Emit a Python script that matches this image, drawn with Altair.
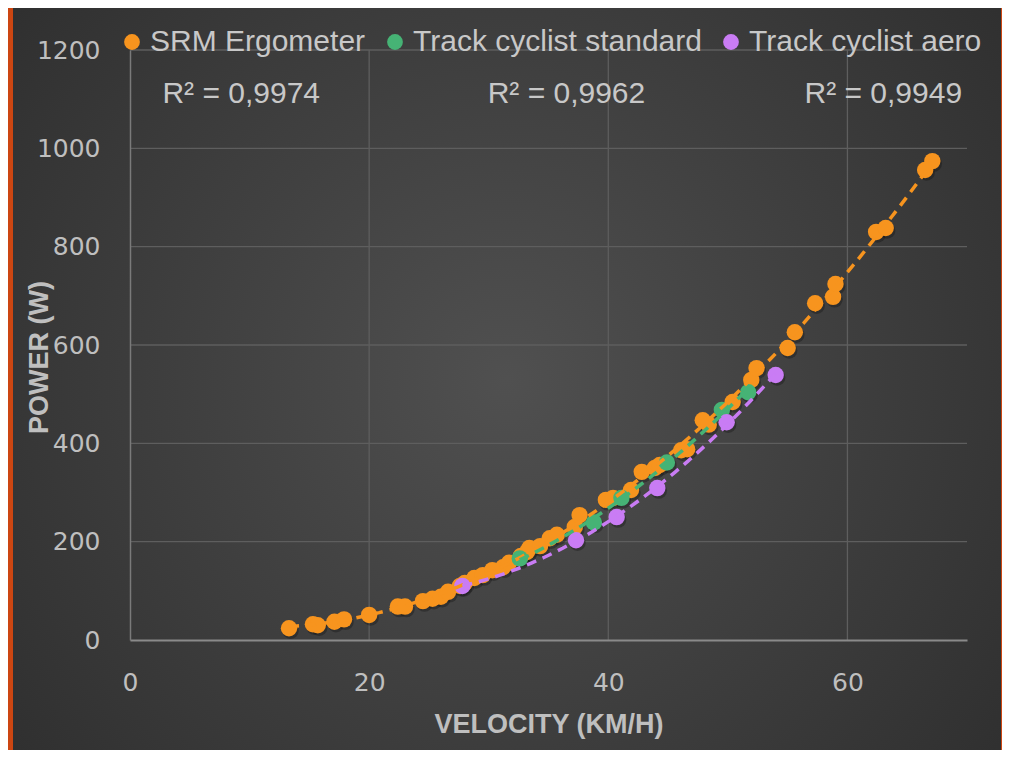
import altair as alt
import pandas as pd

# ---------------- data ----------------
series_names = ["SRM Ergometer", "Track cyclist standard", "Track cyclist aero"]
series_colors = ["#F7941E", "#46B375", "#C97CF4"]

srm_x = [13.3, 15.3, 15.7, 17.1, 17.9, 20.0, 22.4, 23.0, 24.5, 25.3, 26.0, 26.6,
         27.6, 28.0, 28.8, 29.5, 30.3, 31.2, 31.7, 32.7, 33.2, 33.4, 34.3, 35.1,
         35.7, 37.2, 37.6, 39.8, 40.4, 41.9, 42.8, 43.9, 44.3, 46.1, 46.6, 47.9,
         48.4, 50.4, 51.96, 52.4, 55.0, 55.6, 57.3, 58.8, 59.0, 62.4, 63.2, 66.5, 67.1]
srm_y = [24, 32, 30, 37, 42, 51, 68, 68, 79, 84, 88, 98,
         110, 116, 126, 132, 142, 148, 157, 171, 179, 187, 191, 207,
         214, 230, 254, 285, 289, 305, 342, 350, 356, 386, 388, 447,
         438, 484, 529, 553, 594, 626, 685, 698, 724, 830, 838, 956, 974]

std_x = [32.6, 38.8, 41.1, 44.9, 49.5, 51.7]
std_y = [166, 239, 289, 361, 468, 504]

aero_x = [27.8, 37.3, 40.7, 44.1, 49.9, 54.0]
aero_y = [110, 203, 250, 309, 443, 539]

x_ticks = [0, 20, 40, 60]
y_ticks = [0, 200, 400, 600, 800, 1000, 1200]
x_grid = [20, 40, 60]
y_grid = [200, 400, 600, 800, 1000, 1200]

r2_labels = ["R² = 0,9974", "R² = 0,9962", "R² = 0,9949"]
r2_x = [9.3, 36.5, 63.0]
r2_y = [1110, 1110, 1110]

# ---------------- tables ----------------
rows = []
for name, xs_, ys_ in zip(series_names, [srm_x, std_x, aero_x], [srm_y, std_y, aero_y]):
    for a, b in zip(xs_, ys_):
        rows.append({"series": name, "v": a, "p": b})
df = pd.DataFrame(rows)

W, H = 837, 590
FONT_LBL = "DejaVu Sans"
FONT_TXT = "Liberation Sans"
TXT_COLOR = "#c8c8c8"

xs = alt.Scale(domain=[0, 70], nice=False, zero=False)
ys = alt.Scale(domain=[0, 1200], nice=False)

x_axis = alt.Axis(
    values=x_ticks, title="VELOCITY (KM/H)", grid=False, ticks=False,
    format="d", labelFlush=False,
    labelFont=FONT_LBL, labelFontSize=25, labelColor="#bfbfbf",
    labelPadding=30, domainColor="#8a8a8a", domainWidth=2,
    titleFont=FONT_TXT, titleFontSize=27, titleFontWeight="bold",
    titleColor="#bfbfbf", titleY=92, titleBaseline="alphabetic",
    zindex=1,
)
y_axis = alt.Axis(
    values=y_ticks, title="POWER (W)", grid=False, ticks=False,
    format="d", labelFlush=False,
    labelFont=FONT_LBL, labelFontSize=25, labelColor="#bfbfbf",
    labelPadding=30, domainColor="#7a7a7a", domainWidth=1.5,
    titleFont=FONT_TXT, titleFontSize=27, titleFontWeight="bold",
    titleColor="#bfbfbf", titleX=-83, titleY=307, titleAngle=270,
    titleBaseline="alphabetic", titleAlign="center",
    zindex=1,
)

bg = alt.Chart(pd.DataFrame({"k": [0]})).mark_rect(
    color=alt.RadialGradient(
        gradient="radial", x1=0.5, y1=0.5, r1=0, x2=0.5, y2=0.5, r2=0.72,
        stops=[
            alt.GradientStop(offset=0, color="#505050"),
            alt.GradientStop(offset=1, color="#2b2b2b"),
        ],
    )
).encode(x=alt.value(-117), x2=alt.value(871), y=alt.value(-42), y2=alt.value(700))

hgrid = alt.Chart(pd.DataFrame({"g": y_grid})).mark_rule(
    color="#5e5e5e", strokeWidth=1.3
).encode(
    y=alt.Y("g:Q", scale=ys, axis=y_axis),
    x=alt.value(0),
    x2=alt.value(W),
)

vgrid = alt.Chart(pd.DataFrame({"g": x_grid})).mark_rule(
    color="#5e5e5e", strokeWidth=1.3
).encode(
    x=alt.X("g:Q", scale=xs, axis=x_axis),
    y=alt.value(0),
    y2=alt.value(H),
)

color_scale = alt.Scale(domain=series_names, range=series_colors)
legend = alt.Legend(
    orient="none", legendX=-13, legendY=-23, direction="horizontal",
    title=None, labelFont=FONT_TXT, labelFontSize=30, labelLimit=500,
    labelColor=TXT_COLOR, symbolType="circle", symbolSize=250,
    symbolStrokeWidth=0, symbolOpacity=1, labelOffset=3,
    columnPadding=14, padding=0, zindex=1,
)

shadow = alt.Chart(df).mark_circle(
    size=270, color="#111111", opacity=0.35, xOffset=1.5, yOffset=2.5
).encode(
    x=alt.X("v:Q", scale=xs, axis=x_axis),
    y=alt.Y("p:Q", scale=ys, axis=y_axis),
)

points = alt.Chart(df).mark_circle(size=270, opacity=1).encode(
    x=alt.X("v:Q", scale=xs, axis=x_axis),
    y=alt.Y("p:Q", scale=ys, axis=y_axis),
    color=alt.Color("series:N", scale=color_scale, legend=legend),
)

trend = alt.Chart(df).transform_regression(
    "v", "p", method="poly", order=2, groupby=["series"]
).mark_line(strokeDash=[10, 7], strokeWidth=3.5).encode(
    x=alt.X("v:Q", scale=xs, axis=x_axis),
    y=alt.Y("p:Q", scale=ys, axis=y_axis),
    color=alt.Color("series:N", scale=color_scale, legend=legend),
)

r2 = alt.Chart(
    pd.DataFrame({"t": r2_labels, "x": r2_x, "y": r2_y})
).mark_text(font=FONT_TXT, fontSize=30, color=TXT_COLOR).encode(
    x=alt.X("x:Q", scale=xs, axis=x_axis),
    y=alt.Y("y:Q", scale=ys, axis=y_axis),
    text="t:N",
)

chart = alt.layer(bg, hgrid, vgrid, shadow, points, trend, r2).properties(
    width=W, height=H,
    autosize=alt.AutoSizeParams(type="none"),
    padding={"left": 122, "top": 42, "right": 35, "bottom": 110},
    background="#CC4612",
).configure_view(stroke=None)

chart.save("out.html", embed_options={"renderer": "svg", "actions": False})
